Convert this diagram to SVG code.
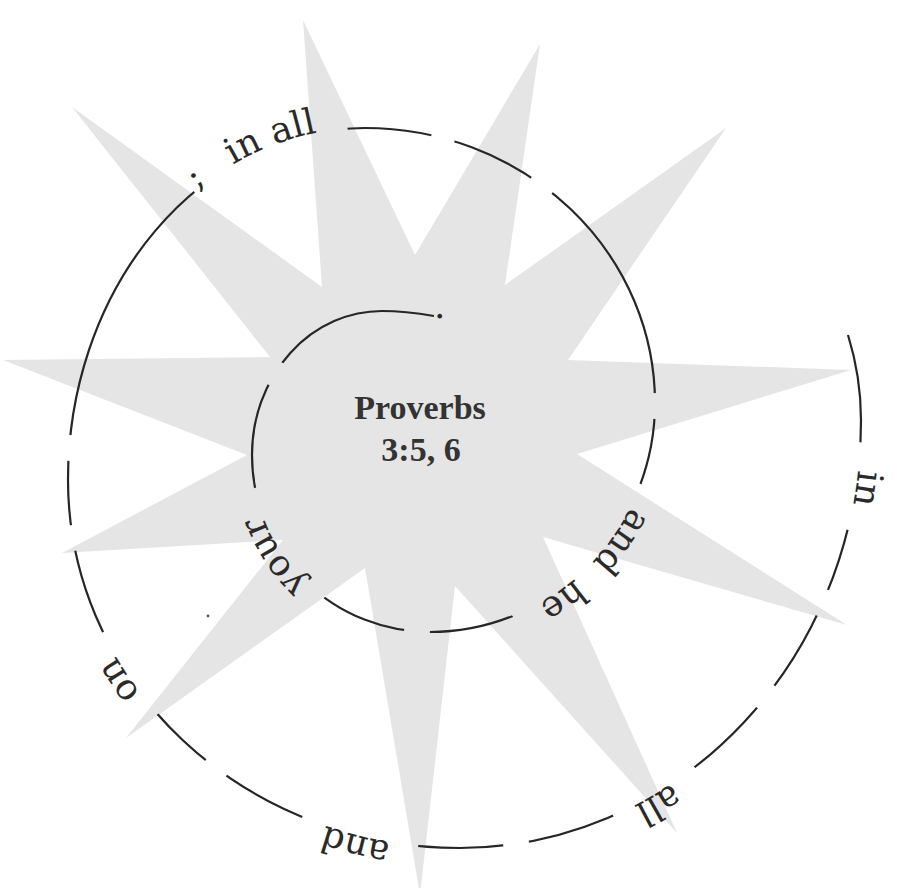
<svg xmlns="http://www.w3.org/2000/svg" width="898" height="888" viewBox="0 0 898 888">
  <style>
    .word { font-family: "DejaVu Serif", "Liberation Serif", serif; font-size: 36px; fill: #2a2a2a; }
    .title { font-family: "Liberation Serif", "DejaVu Serif", serif; font-size: 34px; font-weight: bold; fill: #333; text-anchor: middle; }
    .spiral { fill: none; stroke: #262626; stroke-width: 2.2; }
  </style>
  <defs>
    <mask id="gaps" maskUnits="userSpaceOnUse" x="0" y="0" width="898" height="888">
      <rect width="898" height="888" fill="#fff"/>
      <g fill="#000">
        <circle cx="276" cy="374" r="13"/>
        <circle cx="417" cy="631" r="13"/>
        <circle cx="655" cy="406" r="13"/>
        <circle cx="542" cy="185" r="13"/>
        <circle cx="443" cy="138" r="12"/>
        <circle cx="70" cy="448" r="13"/>
        <circle cx="73" cy="538" r="13"/>
        <circle cx="216" cy="768" r="13"/>
        <circle cx="516" cy="843" r="13"/>
        <circle cx="766" cy="697" r="14"/>
        <circle cx="823" cy="603" r="14"/>
        <circle cx="279.4" cy="549.3" r="66"/>
        <circle cx="590.4" cy="563.5" r="94"/>
        <circle cx="265.9" cy="148.2" r="84"/>
        <circle cx="127.6" cy="675" r="49.5"/>
        <circle cx="359.2" cy="835.6" r="60"/>
        <circle cx="655.3" cy="793.8" r="47.5"/>
        <circle cx="856.2" cy="486.2" r="44.3"/>
      </g>
    </mask>
    <path id="p-your" d="M307.5,583.4 A178,177 0 0 1 262.7,394.5"/>
    <path id="p-and1" d="M630.5,507 A225,229 0 0 1 390.9,628.5"/>
    <path id="p-he" d="M574.9,578.2 A225,229 0 0 1 353,618.2"/>
    <path id="p-semi" d="M196.8,189.9 A297,352 0 0 1 416.6,133.3"/>
    <path id="p-inall" d="M232.9,164.7 A297,352 0 0 1 466.6,149.2"/>
    <path id="p-on" d="M140.4,693.1 A392,368 0 0 1 69.5,512.1"/>
    <path id="p-and2" d="M390.6,842.2 A392,368 0 0 1 208,761.9"/>
    <path id="p-all" d="M671.9,783.4 A401,428 0 0 1 460,848"/>
    <path id="p-in" d="M858.3,470 A401,428 0 0 1 807.3,634"/>
  </defs>

  <rect width="898" height="888" fill="#ffffff"/>

  <g id="star">
    <polygon fill="#e5e5e5" points="303,20 415,255 540,44 505,285 726,128 568,360 851,370 577,454 847,625 543,537 677,833 455,586 420,895 365,568 126,738 283,540 62,553 247,455 3,360 270,357 72,107 322,287"/>
  </g>

  <g id="spiral">
    <path class="spiral" mask="url(#gaps)" d="M434,316 Q405,311 382,311 A130,144 0 0 0 252,455 A178,177 0 0 0 430,632 A225,229 0 0 0 655,403 A290,275 0 0 0 365,128 A297,352 0 0 0 68,480 A392,368 0 0 0 460,848 A401,428 0 0 0 861,420 A401,337 0 0 0 848,335"/>
  </g>

  <g id="words">
    <text class="word"><textPath href="#p-in">in</textPath></text>
    <text class="word"><textPath href="#p-all">all</textPath></text>
    <text class="word"><textPath href="#p-and2">and</textPath></text>
    <text class="word"><textPath href="#p-on">on</textPath></text>
    <text class="word"><textPath href="#p-semi">;</textPath></text>
    <text class="word"><textPath href="#p-inall">in all</textPath></text>
    <text class="word"><textPath href="#p-and1">and</textPath></text>
    <text class="word"><textPath href="#p-he">he</textPath></text>
    <text class="word"><textPath href="#p-your">your</textPath></text>
    <text class="word" x="434" y="318">.</text>
  </g>

  <g id="title">
    <text class="title" x="420" y="419">Proverbs</text>
    <text class="title" x="421" y="461">3:5, 6</text>
  </g>

  <circle cx="208" cy="616" r="1.4" fill="#555"/>
</svg>
